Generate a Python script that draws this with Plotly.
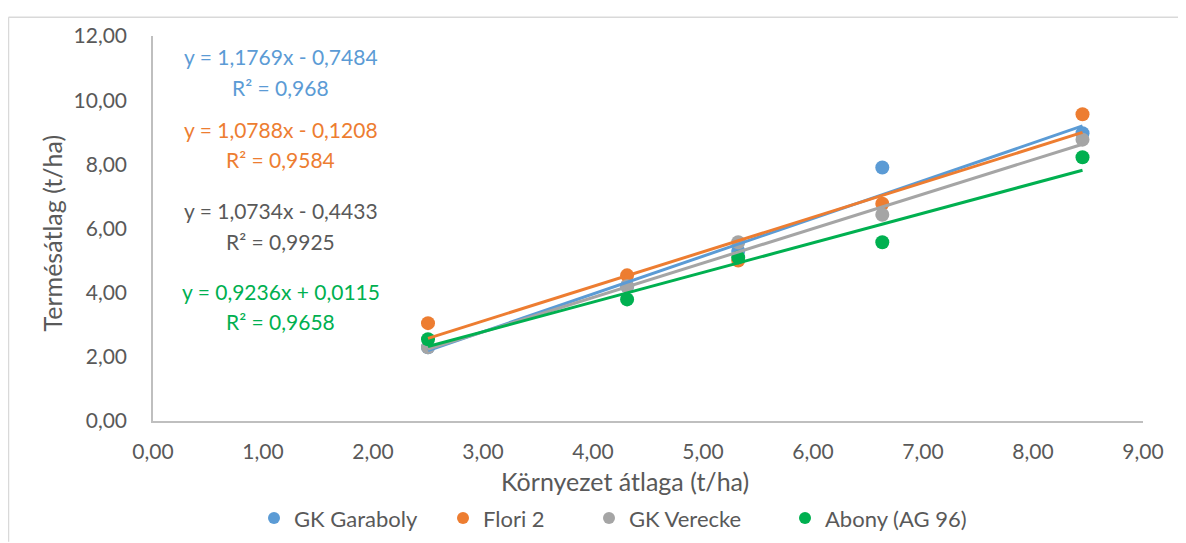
import plotly.graph_objects as go

# ---- data ----
env_mean = [2.50, 4.31, 5.32, 6.63, 8.45]
series_names = ["GK Garaboly", "Flori 2", "GK Verecke", "Abony (AG 96)"]
garaboly = [2.30, 4.20, 5.30, 7.90, 8.97]
flori2 = [3.05, 4.54, 5.00, 6.77, 9.56]
verecke = [2.30, 4.20, 5.57, 6.43, 8.77]
abony = [2.55, 3.79, 5.10, 5.57, 8.22]
slopes = [1.1769, 1.0788, 1.0734, 0.9236]
intercepts = [-0.7484, -0.1208, -0.4433, 0.0115]
eq_texts = ["y = 1,1769x - 0,7484", "y = 1,0788x - 0,1208", "y = 1,0734x - 0,4433", "y = 0,9236x + 0,0115"]
r2_texts = ["R² = 0,968", "R² = 0,9584", "R² = 0,9925", "R² = 0,9658"]
x_ticks = [0, 1, 2, 3, 4, 5, 6, 7, 8, 9]
y_ticks = [0, 2, 4, 6, 8, 10, 12]

# ---- style ----
colors = ["#5B9BD5", "#ED7D31", "#A5A5A5", "#00B050"]
eq_colors = ["#5B9BD5", "#ED7D31", "#595959", "#00B050"]
eq_pos = [(11.36, 10.40), (9.10, 8.16), (6.55, 5.61), (4.03, 3.10)]
legend_text_start = [292, 481, 627, 823]  # reference pixel x where each legend label starts
FONT = "Lato"
TXT = "#595959"

W, H = 1186, 543
DX = 8  # page body margin on the left
L, R, T, B = 145, 51, 28, 123
pw, ph = W - L - R, H - T - B

def px2paper_x(px):
    return (px - DX - L) / pw

def px2paper_y(py):
    return (H - B - py) / ph

values = [garaboly, flori2, verecke, abony]
legend_ids = ["legend", "legend2", "legend3", "legend4"]
fig = go.Figure()
for name, vals, col, lg in zip(series_names, values, colors, legend_ids):
    fig.add_trace(go.Scatter(x=env_mean, y=vals, mode="markers", name=name, legend=lg,
                             marker=dict(color=col, size=14, line=dict(width=0)),
                             hoverinfo="x+y"))
xmin, xmax = min(env_mean), max(env_mean)
for a, b, col in zip(slopes, intercepts, colors):
    fig.add_trace(go.Scatter(x=[xmin, xmax], y=[a * xmin + b, a * xmax + b], mode="lines",
                             line=dict(color=col, width=3), showlegend=False, hoverinfo="skip"))

annotations = []
for eq, r2, col, (ye, yr) in zip(eq_texts, r2_texts, eq_colors, eq_pos):
    annotations.append(dict(x=1.16, y=ye, xref="x", yref="y", text=eq, showarrow=False,
                            font=dict(family=FONT, size=21, color=col), xanchor="center", yanchor="middle"))
    annotations.append(dict(x=1.16, y=yr, xref="x", yref="y", text=r2, showarrow=False,
                            font=dict(family=FONT, size=21, color=col), xanchor="center", yanchor="middle"))

annotations.append(dict(x=px2paper_x(625), y=px2paper_y(481), xref="paper", yref="paper",
                        text="Környezet átlaga (t/ha)", showarrow=False,
                        font=dict(family=FONT, size=25, color=TXT), xanchor="center", yanchor="middle"))
annotations.append(dict(x=px2paper_x(52), y=px2paper_y(229), xref="paper", yref="paper",
                        text="Termésátlag (t/ha)", showarrow=False, textangle=-90,
                        font=dict(family=FONT, size=25, color=TXT), xanchor="center", yanchor="middle"))

shapes = [
    dict(type="line", xref="paper", yref="paper", x0=px2paper_x(DX + 0.5), x1=px2paper_x(1200),
         y0=px2paper_y(9), y1=px2paper_y(9), line=dict(color="#D9D9D9", width=1.5)),
    dict(type="line", xref="paper", yref="paper", x0=px2paper_x(DX + 0.5), x1=px2paper_x(DX + 0.5),
         y0=px2paper_y(9), y1=px2paper_y(543), line=dict(color="#D9D9D9", width=1.5)),
]

legend_common = dict(orientation="h", xanchor="left", yanchor="middle",
                     font=dict(family=FONT, size=22, color=TXT), itemsizing="constant",
                     bgcolor="rgba(0,0,0,0)", borderwidth=0)
legends = {}
for lg, ts in zip(legend_ids, legend_text_start):
    legends[lg] = dict(legend_common, x=px2paper_x(ts - 38), y=px2paper_y(519))

fig.update_layout(
    width=W, height=H,
    margin=dict(l=L, r=R, t=T, b=B),
    paper_bgcolor="white", plot_bgcolor="white",
    separators=", ",
    font=dict(family=FONT, size=16, color=TXT),
    showlegend=True,
    annotations=annotations,
    shapes=shapes,
    xaxis=dict(range=[0, 9], tickvals=x_ticks, tickformat=".2f", showgrid=False, zeroline=False,
               showline=True, linecolor="#BFBFBF", linewidth=2, ticks="", ticklabelstandoff=11,
               tickfont=dict(family=FONT, size=21, color=TXT)),
    yaxis=dict(range=[0, 12], tickvals=y_ticks, tickformat=".2f", showgrid=False, zeroline=False,
               showline=True, linecolor="#BFBFBF", linewidth=1.5, ticks="", ticklabelstandoff=20,
               tickfont=dict(family=FONT, size=21, color=TXT)),
    **legends,
)

fig.write_html("out.html")
